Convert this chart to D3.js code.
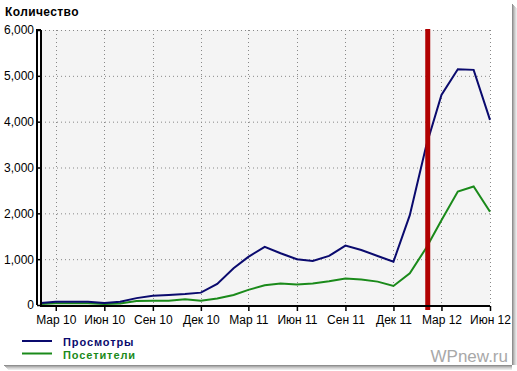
<!DOCTYPE html>
<html>
<head>
<meta charset="utf-8">
<script src="https://cdn.jsdelivr.net/npm/d3@7"></script>
<style>
  body { margin: 0; background: #fff; }
  text { font-family: "Liberation Sans", Arial, sans-serif; }
</style>
</head>
<body>
<div id="chart"></div>
<script>
// monthly values, Feb 2010 .. Jun 2012
var views = [45, 70, 70, 70, 45, 70, 150, 200, 220, 240, 270, 460, 800, 1050, 1270,
             1130, 1000, 960, 1070, 1295, 1200, 1070, 945, 1960, 3470, 4585, 5145, 5130, 4040];
var visitors = [20, 40, 40, 40, 20, 35, 85, 95, 95, 125, 95, 140, 220, 330, 430,
                470, 450, 470, 520, 580, 555, 510, 415, 690, 1245, 1850, 2475, 2585, 2035];
var monthNames = ["Янв", "Фев", "Мар", "Апр", "Май", "Июн", "Июл", "Авг", "Сен", "Окт", "Ноя", "Дек"];
var yTicks = [0, 1000, 2000, 3000, 4000, 5000, 6000];
var markerDate = new Date(2012, 1, 4);
var seriesNames = ["Просмотры", "Посетители"];
var seriesColors = ["#0a0a6e", "#1a8a1a"];

var dates = views.map(function(d, i) { return new Date(2010, 1 + i, 1); });
var xTicks = [];
for (var m = 0; m < 10; m++) xTicks.push(new Date(2010, 2 + m * 3, 1));

var W = 517, H = 371;
var svg = d3.select("#chart").append("svg")
  .attr("width", W)
  .attr("height", H);

// frame + shadow
svg.append("rect").attr("x", 0).attr("y", 0).attr("width", 512).attr("height", 365).attr("fill", "#fff");
[0.55, 0.4, 0.28, 0.18, 0.1].forEach(function(o, i) {
  svg.append("rect").attr("x", 512 + i).attr("y", 4 + i).attr("width", 1).attr("height", 361 - i)
    .attr("fill", "#333").attr("opacity", o);
  svg.append("rect").attr("x", 4 + i).attr("y", 365 + i).attr("width", 508 - i).attr("height", 1)
    .attr("fill", "#333").attr("opacity", o);
});

var x = d3.scaleTime()
  .domain([dates[0], dates[dates.length - 1]])
  .range([41, 490]);
var y = d3.scaleLinear()
  .domain([0, 6000])
  .range([305, 30]);

// plot background
svg.append("rect")
  .attr("x", x.range()[0]).attr("y", y(6000))
  .attr("width", x.range()[1] - x.range()[0])
  .attr("height", y(0) - y(6000))
  .attr("fill", "#f4f4f4");

// grid
svg.append("g").selectAll("line.h")
  .data(yTicks.slice(1))
  .enter().append("line")
  .attr("x1", 41).attr("x2", 490)
  .attr("y1", function(d) { return y(d) + 0.5; })
  .attr("y2", function(d) { return y(d) + 0.5; })
  .attr("stroke", "#888").attr("stroke-dasharray", "1,3");
svg.append("g").selectAll("line.v")
  .data(xTicks)
  .enter().append("line")
  .attr("x1", function(d) { return Math.round(x(d)) + 0.5; })
  .attr("x2", function(d) { return Math.round(x(d)) + 0.5; })
  .attr("y1", 30).attr("y2", 305)
  .attr("stroke", "#888").attr("stroke-dasharray", "1,3");

// lines
var line = function(vals) {
  return d3.line()
    .x(function(d, i) { return x(dates[i]); })
    .y(function(d) { return y(d); })(vals);
};
svg.append("path").attr("d", line(visitors))
  .attr("fill", "none").attr("stroke", seriesColors[1]).attr("stroke-width", 2);
svg.append("path").attr("d", line(views))
  .attr("fill", "none").attr("stroke", seriesColors[0]).attr("stroke-width", 2);

// red marker
svg.append("line")
  .attr("x1", x(markerDate)).attr("x2", x(markerDate))
  .attr("y1", 29).attr("y2", 310)
  .attr("stroke", "#b00000").attr("stroke-width", 5);

// axes
var yAxis = svg.append("g")
  .attr("transform", "translate(41,0)")
  .call(d3.axisLeft(y).tickValues(yTicks).tickFormat(d3.format(",")).tickSize(4).tickPadding(3));
var xAxis = svg.append("g")
  .attr("transform", "translate(0,306)")
  .call(d3.axisBottom(x).tickValues(xTicks)
    .tickFormat(function(d) { return monthNames[d.getMonth()] + " " + String(d.getFullYear()).slice(2); })
    .tickSize(5).tickPadding(4));
[xAxis, yAxis].forEach(function(a) {
  a.select(".domain").attr("stroke", "#000").attr("stroke-width", 2);
  a.selectAll(".tick line").attr("stroke", "#000").attr("stroke-width", 1.5);
  a.selectAll("text").attr("font-size", 12).attr("fill", "#000")
    .attr("font-family", "'Liberation Sans', Arial, sans-serif");
});
yAxis.select(".domain").attr("d", "M-4,305V30H0M0,30V305");
xAxis.select(".domain").attr("d", "M40,0H490");

// title
svg.append("text").attr("x", 5).attr("y", 16)
  .attr("font-size", 12).attr("font-weight", "bold").attr("letter-spacing", 0.4)
  .text("Количество");

// legend
var leg = svg.append("g").selectAll("g")
  .data(seriesNames)
  .enter().append("g")
  .attr("transform", function(d, i) { return "translate(0," + (341 + i * 12.5) + ")"; });
leg.append("line").attr("x1", 22).attr("x2", 52)
  .attr("stroke", function(d, i) { return seriesColors[i]; }).attr("stroke-width", 2);
leg.append("text").attr("x", 63).attr("y", 5)
  .attr("font-size", 11).attr("font-weight", "bold").attr("letter-spacing", 0.9)
  .attr("fill", function(d, i) { return seriesColors[i]; })
  .text(function(d) { return d; });

// watermark
svg.append("text").attr("x", 508).attr("y", 362)
  .attr("text-anchor", "end").attr("font-size", 17).attr("fill", "#a8a8a8")
  .text("WPnew.ru");
</script>
</body>
</html>
